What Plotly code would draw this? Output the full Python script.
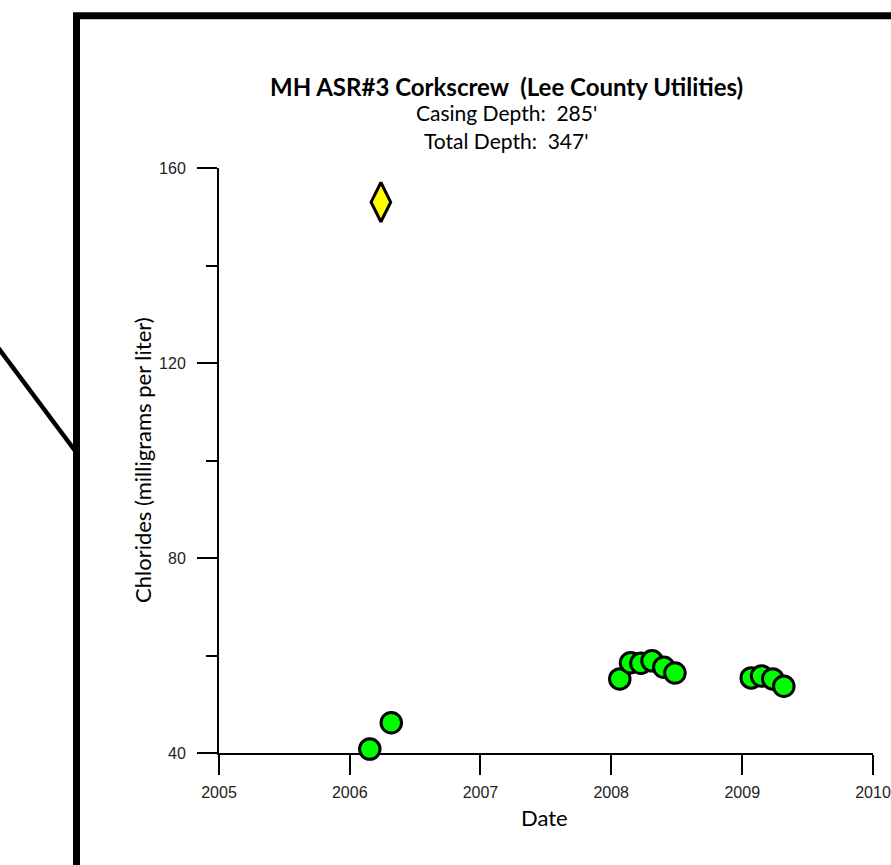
import plotly.graph_objects as go

# ---- data ----
green_dates = ["2006-02-26", "2006-04-27",
               "2008-01-25", "2008-02-24", "2008-03-24", "2008-04-24", "2008-05-27", "2008-06-27",
               "2009-01-26", "2009-02-24", "2009-03-27", "2009-04-27"]
green_values = [40.8, 46.2,
                55.2, 58.5, 58.4, 58.9, 57.6, 56.4,
                55.4, 55.8, 55.2, 53.7]
diamond_dates = ["2006-03-29"]
diamond_values = [153.0]

title_text = "MH ASR#3 Corkscrew  (Lee County Utilities)"
sub1 = "Casing Depth:  285'"
sub2 = "Total Depth:  347'"
x_title = "Date"
y_title = "Chlorides (milligrams per liter)"
y_ticks = [40, 80, 120, 160]
x_ticks = ["2005-01-01", "2006-01-01", "2007-01-01", "2008-01-01", "2009-01-01", "2010-01-01"]
x_ticklabels = ["2005", "2006", "2007", "2008", "2009", "2010"]

W, H = 891, 865
L, T = 219, 168
PW, PH = 873 - 219, 753 - 168
R = W - L - PW
B = H - T - PH

def px(x):  # page pixel x -> paper
    return (x - L) / PW

def py(y):  # page pixel y -> paper
    return (T + PH - y) / PH

fig = go.Figure()
fig.add_trace(go.Scatter(
    x=green_dates, y=green_values, mode="markers",
    marker=dict(symbol="circle", size=20.5, color="#00FF00",
                line=dict(color="black", width=3)),
    cliponaxis=False, showlegend=False, hoverinfo="skip"))
fig.add_trace(go.Scatter(
    x=diamond_dates, y=diamond_values, mode="markers",
    marker=dict(symbol="diamond-tall", size=28, color="#FFFF00",
                line=dict(color="black", width=3)),
    cliponaxis=False, showlegend=False, hoverinfo="skip"))

tick_font = dict(family="Liberation Sans, Arial, sans-serif", size=16, color="#222")
label_font = "Lato, Open Sans, sans-serif"

fig.update_xaxes(
    type="date", range=["2005-01-01", "2010-01-01"],
    tickvals=x_ticks, ticktext=x_ticklabels,
    showline=True, linecolor="black", linewidth=2,
    ticks="outside", ticklen=20, tickwidth=2, tickcolor="black",
    tickfont=tick_font, ticklabelstandoff=4,
    showgrid=False, zeroline=False, layer="below traces", automargin=False,
)
fig.update_yaxes(
    range=[40, 160], tickvals=y_ticks,
    showline=True, linecolor="black", linewidth=2,
    ticks="outside", ticklen=20, tickwidth=2, tickcolor="black",
    minor=dict(ticks="outside", ticklen=11, tickwidth=2, tickcolor="black", dtick=20, tick0=40, showgrid=False),
    tickfont=tick_font, ticklabelstandoff=8,
    showgrid=False, zeroline=False, layer="below traces", automargin=False,
)

ann = dict(xref="paper", yref="paper", showarrow=False, xanchor="center", yanchor="middle")
fig.add_annotation(text="<b>" + title_text + "</b>", x=px(506), y=py(86),
                   font=dict(family=label_font, size=24, color="black"), **ann)
fig.add_annotation(text=sub1, x=px(506), y=py(113),
                   font=dict(family=label_font, size=21, color="black"), **ann)
fig.add_annotation(text=sub2, x=px(506), y=py(141),
                   font=dict(family=label_font, size=21, color="black"), **ann)
fig.add_annotation(text=x_title, x=px(544), y=py(817),
                   font=dict(family=label_font, size=22, color="black"), **ann)
fig.add_annotation(text=y_title, x=px(142), y=py(460), textangle=-90,
                   font=dict(family=label_font, size=22, color="black"), **ann)

# decorative frame and leader line
fig.add_shape(type="line", xref="paper", yref="paper",
              x0=px(-4), y0=py(345), x1=px(76), y1=py(452),
              line=dict(color="black", width=4.5))
fig.add_shape(type="path", xref="paper", yref="paper",
              path=f"M {px(76.5)},{py(900)} L {px(76.5)},{py(15.8)} L {px(920)},{py(15.8)}",
              line=dict(color="black", width=7))

fig.update_layout(
    width=W, height=H,
    margin=dict(l=L, r=R, t=T, b=B, autoexpand=False),
    paper_bgcolor="white", plot_bgcolor="white",
    showlegend=False, hovermode=False,
)

fig.write_html(
    "out.html",
    config={"displayModeBar": False},
    post_script="document.body.style.margin='0';document.body.style.overflow='hidden';"
                "document.documentElement.style.overflow='hidden';",
)
